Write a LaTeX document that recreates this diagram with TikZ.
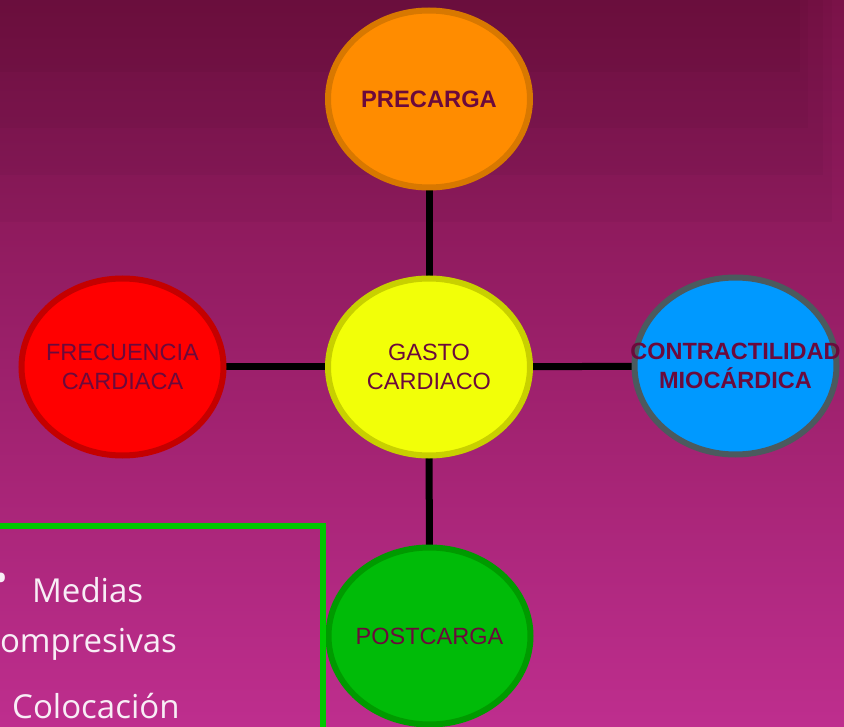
\documentclass[tikz,border=0pt]{standalone}
\usepackage{fontspec}
\setmainfont{Liberation Sans}
\newfontfamily\boxfont{Open Sans}
\usetikzlibrary{shapes.geometric}
\pgfdeclarelayer{bg}
\pgfdeclarelayer{lines}
\pgfsetlayers{bg,lines,main}
\definecolor{bgtop}{HTML}{7A1248}
\definecolor{bgbot}{HTML}{BE2E8E}
\definecolor{txt}{HTML}{6B0A3C}
\definecolor{preF}{HTML}{FF8C00}
\definecolor{preD}{HTML}{D87800}
\definecolor{gcF}{HTML}{F2FF08}
\definecolor{gcD}{HTML}{C8D000}
\definecolor{frF}{HTML}{FF0000}
\definecolor{frD}{HTML}{C40000}
\definecolor{coF}{HTML}{0099FF}
\definecolor{coD}{HTML}{4B5A5E}
\definecolor{poF}{HTML}{00BB08}
\definecolor{poD}{HTML}{009A00}
\definecolor{boxG}{HTML}{00C800}
\definecolor{boxT}{HTML}{F8EEF6}
\tikzset{
  bubble/.style={ellipse, draw, line width=6pt, inner xsep=-60pt, inner ysep=-20pt,
    minimum width=202pt, minimum height=177pt, align=center,
    text=txt, font=\fontsize{23.5}{28.5}\selectfont},
  link/.style={line width=7pt, draw=black},
  boxtext/.style={anchor=base west, text=boxT, inner sep=0pt,
    font=\boxfont\fontsize{33}{40}\selectfont}
}
\begin{document}
\begin{tikzpicture}[x=1pt,y=-1pt]
\useasboundingbox (0,0) rectangle (844,727);
\begin{pgfonlayer}{bg}
\clip (0,0) rectangle (844,727);
\shade[top color=bgtop, bottom color=bgbot] (0,0) rectangle (844,727);
\fill[black, opacity=0.03] (0,0) rectangle (832,222);
\fill[black, opacity=0.03] (0,0) rectangle (823,175);
\fill[black, opacity=0.03] (0,0) rectangle (808,128);
\fill[black, opacity=0.03] (0,0) rectangle (800,72);
\end{pgfonlayer}

\node[bubble, fill=preF, draw=preD, font=\bfseries\fontsize{23.7}{28.5}\selectfont] (pre) at (429,99) {PRECARGA};
\node[bubble, fill=gcF, draw=gcD] (gc) at (429,367) {GASTO\\CARDIACO};
\node[bubble, fill=frF, draw=frD] (fr) at (122.5,367) {FRECUENCIA\\CARDIACA};
\node[bubble, fill=coF, draw=coD, font=\bfseries\fontsize{23.5}{28.5}\selectfont] (co) at (735.5,366) {CONTRACTILIDAD\\MIOCÁRDICA};
\node[bubble, fill=poF, draw=poD] (po) at (429.5,636) {POSTCARGA};

\begin{pgfonlayer}{lines}
\draw[link] (pre.center) -- (gc.center);
\draw[link] (gc.center) -- (po.center);
\draw[link] (fr.center) -- (gc.center);
\draw[link] (gc.center) -- (co.center);
\end{pgfonlayer}

\begin{scope}
\clip (0,0) rectangle (844,727);
\draw[boxG, line width=6pt] (-20,526) -- (323,526) -- (323,740);
\node[boxtext, font=\boxfont\fontsize{40}{40}\selectfont] (b1) at (-7,592) {•};
\node[boxtext] (t1) at (32,602) {Medias};
\node[boxtext] (t2) at (-21,652) {Compresivas};
\node[boxtext] (t3) at (12,718) {Colocación};
\end{scope}
\end{tikzpicture}
\end{document}
